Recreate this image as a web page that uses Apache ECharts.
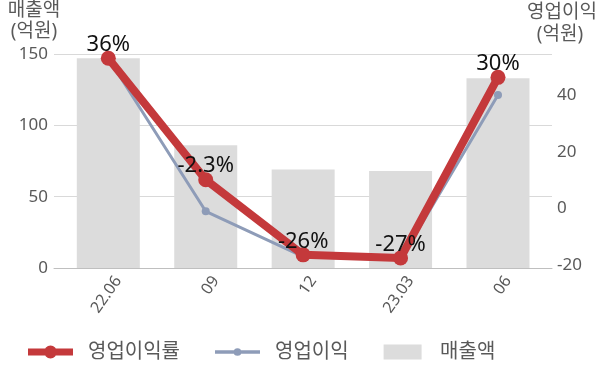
<!DOCTYPE html>
<html>
<head>
<meta charset="utf-8">
<script src="https://cdn.jsdelivr.net/npm/echarts@6/dist/echarts.min.js"></script>
<style>
html,body{margin:0;padding:0;background:#fff;}
#chart{width:600px;height:383px;}
</style>
</head>
<body>
<div id="chart"></div>
<script>
// ---- data ----
const categories = ['22.06', '09', '12', '23.03', '06'];
const sales = [147, 86, 69, 68, 133];            // 매출액 (억원)
const opProfit = [53, -1, -17, -18, 40];           // 영업이익 (억원)
const opMargin = [36, -2.3, -26, -27, 30];         // 영업이익률 (%)
const leftTicks = [0, 50, 100, 150];
const rightTicks = [-20, 0, 20, 40];

const FONT = "'Noto Sans', 'Noto Sans CJK KR', sans-serif";
const TXT = '#595959';
const RED = '#c4393b';
const BLUE = '#8e9cb8';
const GREY = '#dcdcdc';

const ICON_RED = 'path://M0 3 L45 3 L45 10 L0 10 Z M16 6.5 A6.5 6.5 0 1 1 29 6.5 A6.5 6.5 0 1 1 16 6.5 Z';
const ICON_BLUE = 'path://M0 2 L41 2 L41 5 L0 5 Z M17 3.5 A3.5 3.5 0 1 1 24 3.5 A3.5 3.5 0 1 1 17 3.5 Z';
const ICON_GREY = 'path://M0 0 L38 0 L38 15 L0 15 Z';

const chart = echarts.init(document.getElementById('chart'), null, {renderer: 'canvas'});

const option = {
  animation: false,
  backgroundColor: '#fff',
  textStyle: {fontFamily: FONT},
  grid: [
    {left: 54, right: 48, top: 54, bottom: 115},
    {left: 59.6, right: 53.3, top: 54, bottom: 115},
    {left: 69.6, right: 43.3, top: 54, bottom: 115}
  ],
  xAxis: [
    {gridIndex: 0, type: 'value', min: 0, max: 1,
     axisLine: {show: true, onZero: false, lineStyle: {color: '#bfbfbf', width: 1}},
     axisTick: {show: false}, axisLabel: {show: false}, splitLine: {show: false}},
    {gridIndex: 1, type: 'category', data: categories,
     axisLine: {show: false}, axisTick: {show: false}, axisLabel: {show: false}},
    {gridIndex: 2, type: 'category', data: categories,
     axisLine: {show: false}, axisTick: {show: false},
     axisLabel: {rotate: 55, fontSize: 16, color: TXT, fontFamily: FONT, margin: 10}}
  ],
  yAxis: [
    {gridIndex: 0, type: 'value', position: 'left', min: 0, max: 150, interval: 50,
     axisLine: {show: false}, axisTick: {show: false},
     axisLabel: {fontSize: 17, color: TXT, fontFamily: FONT, margin: 6, customValues: leftTicks},
     splitLine: {show: true, lineStyle: {color: '#d9d9d9', width: 1}}},
    {gridIndex: 0, type: 'value', position: 'right', min: -21, max: 54.5,
     axisLine: {show: false}, axisTick: {show: false},
     axisLabel: {fontSize: 17, color: TXT, fontFamily: FONT, margin: 5, customValues: rightTicks},
     splitLine: {show: false}},
    {gridIndex: 1, type: 'value', min: 0, max: 150, show: false},
    {gridIndex: 1, type: 'value', min: -21, max: 54.5, show: false},
    {gridIndex: 1, type: 'value', min: -30.15, max: 37.36, show: false},
    {gridIndex: 2, type: 'value', min: 0, max: 1, show: false}
  ],
  legend: {
    left: 23, top: 337,
    itemWidth: 45, itemHeight: 15, itemGap: 35,
    symbolKeepAspect: true,
    textStyle: {fontSize: 20, color: TXT, fontFamily: FONT, padding: [0, 0, 0, 10]},
    data: [
      {name: '영업이익률', icon: ICON_RED},
      {name: '영업이익', icon: ICON_BLUE},
      {name: '매출액', icon: ICON_GREY}
    ]
  },
  graphic: [
    {type: 'text', style: {text: '매출액', x: 34, y: 11, align: 'center', verticalAlign: 'middle', fontSize: 19, fill: TXT, fontFamily: FONT}},
    {type: 'text', style: {text: '(억원)', x: 34, y: 32, align: 'center', verticalAlign: 'middle', fontSize: 19, fill: TXT, fontFamily: FONT}},
    {type: 'text', style: {text: '영업이익', x: 562, y: 12.5, align: 'center', verticalAlign: 'middle', fontSize: 19, fill: TXT, fontFamily: FONT}},
    {type: 'text', style: {text: '(억원)', x: 560, y: 35, align: 'center', verticalAlign: 'middle', fontSize: 19, fill: TXT, fontFamily: FONT}}
  ],
  series: [
    {name: '매출액', type: 'bar', xAxisIndex: 1, yAxisIndex: 2, data: sales,
     barWidth: 63, itemStyle: {color: GREY}, z: 1},
    {name: '영업이익', type: 'line', xAxisIndex: 1, yAxisIndex: 3, data: opProfit,
     symbol: 'circle', symbolSize: 8,
     lineStyle: {color: BLUE, width: 3}, itemStyle: {color: BLUE}, z: 3},
    {name: '영업이익률', type: 'line', xAxisIndex: 1, yAxisIndex: 4, data: opMargin,
     symbol: 'circle', symbolSize: 15,
     lineStyle: {color: RED, width: 8}, itemStyle: {color: RED}, z: 4,
     label: {show: true, position: 'top', distance: -5, fontSize: 22, color: '#111', fontFamily: FONT,
             formatter: p => p.value + '%'}}
  ]
};
chart.setOption(option);
</script>
</body>
</html>
